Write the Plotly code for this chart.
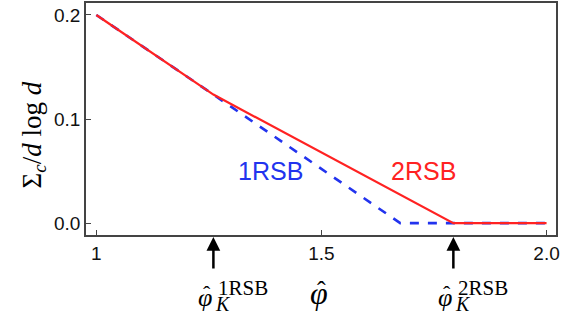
import plotly.graph_objects as go

# Data
phi_1rsb = [1.0, 1.26, 1.675, 2.0]
sigma_1rsb = [0.2, 0.1235, 0.0, 0.0]
phi_2rsb = [1.0, 1.26, 1.793, 2.0]
sigma_2rsb = [0.2, 0.1235, 0.0, 0.0]
phi_K_1rsb = 1.26
phi_K_2rsb = 1.793
x_ticks = [1.0, 1.5, 2.0]
x_tick_labels = ["1", "1.5", "2.0"]
y_ticks = [0.0, 0.1, 0.2]
y_tick_labels = ["0.0", "0.1", "0.2"]

RED = "#ff2222"
BLUE = "#2233ee"
SERIF = "Liberation Serif, DejaVu Serif, serif"
SANS = "Liberation Sans, Arial, sans-serif"

TOP, BOTTOM = 1, 235


def py(p):
    """pixel row -> paper y"""
    return (BOTTOM - p) / (BOTTOM - TOP)


fig = go.Figure()
fig.add_trace(go.Scatter(x=phi_1rsb, y=sigma_1rsb, mode="lines",
                         line=dict(color=BLUE, width=2.6, dash="dash"), showlegend=False))
fig.add_trace(go.Scatter(x=phi_2rsb, y=sigma_2rsb, mode="lines",
                         line=dict(color=RED, width=2.2), showlegend=False))

axis_common = dict(showgrid=False, zeroline=False, showline=True, linecolor="#444444",
                   linewidth=1.5, mirror=True, ticks="inside", ticklen=5,
                   tickcolor="#444444", tickwidth=1.2,
                   tickfont=dict(family=SANS, size=19, color="#111111"))

fig.update_xaxes(range=[0.977, 2.021], tickvals=x_ticks, ticktext=x_tick_labels, **axis_common)
fig.update_yaxes(range=[-0.0114, 0.2115], tickvals=y_ticks, ticktext=y_tick_labels, **axis_common)

# series labels
fig.add_annotation(x=1.386, y=0.050, text="1RSB", showarrow=False,
                   font=dict(family=SANS, size=25, color=BLUE))
fig.add_annotation(x=1.726, y=0.050, text="2RSB", showarrow=False,
                   font=dict(family=SANS, size=25, color=RED))

# arrows
for xv in [phi_K_1rsb, phi_K_2rsb]:
    fig.add_annotation(x=xv, y=py(237), xref="x", yref="paper", text="",
                       showarrow=True, ax=0, ay=33, axref="pixel", ayref="pixel",
                       arrowhead=2, arrowsize=1.1, arrowwidth=2.5, arrowcolor="black")


def txt(xv, xshift, prow, text, size, italic=False, xanchor="center"):
    if italic:
        text = "<i>" + text + "</i>"
    fig.add_annotation(x=xv, y=py(prow), xref="x", yref="paper", xshift=xshift,
                       text=text, showarrow=False, xanchor=xanchor, yanchor="middle",
                       font=dict(family=SERIF, size=size, color="black"))


# critical-point labels: phi-hat with sub K and superscript
for xv, sup in [(phi_K_1rsb, "1RSB"), (phi_K_2rsb, "2RSB")]:
    txt(xv, -8, 298, "φ", 26, italic=True)
    txt(xv, -6, 294, "ˆ", 22)
    txt(xv, 0, 305, "K", 20, italic=True, xanchor="left")
    txt(xv, 3, 288, sup, 21, xanchor="left")

# axis label phi-hat
txt(1.5, -2, 293, "φ", 32, italic=True)
txt(1.5, 0, 291, "ˆ", 26)

# y-axis title
fig.add_annotation(x=-0.152, y=py(134), xref="paper", yref="paper",
                   text="Σ<sub><i>c</i></sub>/<i>d</i> log <i>d</i>", textangle=-90,
                   showarrow=False, font=dict(family=SERIF, size=27, color="black"))

fig.update_layout(width=576, height=320, margin=dict(l=86, r=20, t=TOP, b=320 - BOTTOM),
                  plot_bgcolor="white", paper_bgcolor="white")

fig.write_html("out.html", post_script="document.body.style.margin='0';",
               config={"displayModeBar": False})
